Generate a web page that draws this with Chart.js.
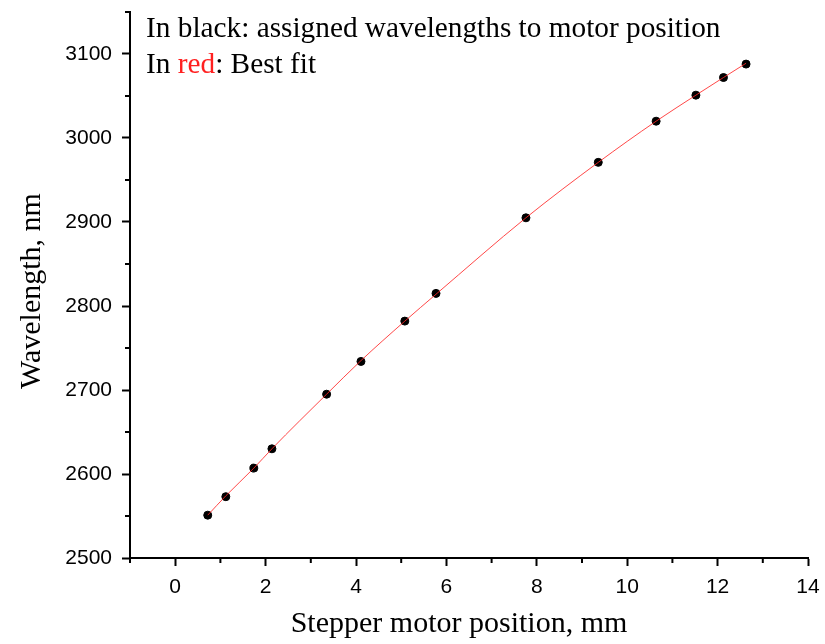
<!DOCTYPE html>
<html>
<head>
<meta charset="utf-8">
<script src="https://cdn.jsdelivr.net/npm/chart.js@4.4.1/dist/chart.umd.min.js"></script>
<style>
  html, body { margin: 0; padding: 0; background: #fff; }
  #wrap { width: 825px; height: 644px; position: relative; }
</style>
</head>
<body>
<div id="wrap"><canvas id="chart"></canvas></div>
<script>
// motor position (mm) and assigned wavelength (nm)
const positions = [0.72, 1.12, 1.74, 2.14, 3.35, 4.11, 5.08, 5.77, 7.76, 9.36, 10.64, 11.52, 12.13, 12.63];
const wavelengths = [2551, 2573, 2607, 2630, 2695, 2734, 2782, 2815, 2905, 2971, 3020, 3051, 3072, 3088];
// best fit curve values at the same positions
const fitValues = [2551, 2574, 2607, 2630, 2695, 2735, 2782, 2814, 2905, 2971, 3020, 3051, 3072, 3089];

const xMajorTicks = [0, 2, 4, 6, 8, 10, 12, 14];
const yMajorTicks = [2500, 2600, 2700, 2800, 2900, 3000, 3100];

const pointData = positions.map((x, i) => ({ x: x, y: wavelengths[i] }));
const fitData = positions.map((x, i) => ({ x: x, y: fitValues[i] }));

const serif = '"Liberation Serif", "Times New Roman", serif';
const sans = '"Liberation Sans", Arial, sans-serif';

// minor ticks and text labels drawn on top of the chart
const extrasPlugin = {
  id: 'extras',
  afterDraw(chart) {
    const ctx = chart.ctx;
    const xs = chart.scales.x;
    const ys = chart.scales.y;
    const area = chart.chartArea;
    ctx.save();
    ctx.strokeStyle = '#000';
    ctx.lineWidth = 2;
    // minor ticks
    for (let v = -1; v <= 13; v += 2) {
      const px = xs.getPixelForValue(v);
      ctx.beginPath();
      ctx.moveTo(px, area.bottom);
      ctx.lineTo(px, area.bottom + 5);
      ctx.stroke();
    }
    for (let v = 2550; v <= 3150; v += 100) {
      const py = ys.getPixelForValue(v);
      ctx.beginPath();
      ctx.moveTo(area.left, py);
      ctx.lineTo(area.left - 5, py);
      ctx.stroke();
    }
    // legend text
    ctx.font = '29.3px ' + serif;
    ctx.textBaseline = 'alphabetic';
    ctx.textAlign = 'left';
    ctx.fillStyle = '#000';
    ctx.fillText('In black: assigned wavelengths to motor position', 146, 37);
    let tx = 146;
    ctx.fillText('In ', tx, 73);
    tx += ctx.measureText('In ').width;
    ctx.fillStyle = '#ff2020';
    ctx.fillText('red', tx, 73);
    tx += ctx.measureText('red').width;
    ctx.fillStyle = '#000';
    ctx.fillText(': Best fit', tx, 73);
    // axis titles
    ctx.font = '30px ' + serif;
    ctx.textAlign = 'center';
    ctx.fillText('Stepper motor position, mm', 459, 632);
    ctx.save();
    ctx.translate(40, 291);
    ctx.rotate(-Math.PI / 2);
    ctx.fillText('Wavelength, nm', 0, 0);
    ctx.restore();
    ctx.restore();
  }
};

new Chart(document.getElementById('chart'), {
  type: 'scatter',
  data: {
    datasets: [
      {
        label: 'Best fit',
        data: fitData,
        showLine: true,
        borderColor: 'rgba(255, 40, 40, 0.85)',
        borderWidth: 1,
        pointRadius: 0,
        cubicInterpolationMode: 'monotone',
        order: 0
      },
      {
        label: 'Assigned wavelengths',
        data: pointData,
        backgroundColor: '#000',
        borderColor: '#000',
        pointRadius: 4,
        order: 1
      }
    ]
  },
  options: {
    responsive: true,
    maintainAspectRatio: false,
    animation: false,
    layout: { padding: { top: 12, right: 17, left: 0, bottom: 0 } },
    plugins: {
      legend: { display: false },
      tooltip: { enabled: false }
    },
    scales: {
      x: {
        type: 'linear',
        min: -1,
        max: 14,
        afterBuildTicks: (scale) => {
          scale.ticks = xMajorTicks.map(v => ({ value: v }));
        },
        afterFit: (scale) => {
          scale.height = 86;
          scale.paddingLeft = 0;
          scale.paddingRight = 0;
        },
        grid: {
          drawOnChartArea: false,
          tickLength: 8,
          tickWidth: 2,
          tickColor: '#000'
        },
        border: { color: '#000', width: 2 },
        ticks: {
          color: '#000',
          padding: 9,
          maxRotation: 0,
          callback: (v) => String(v),
          font: { family: sans, size: 21 }
        }
      },
      y: {
        type: 'linear',
        min: 2500,
        max: 3150,
        afterBuildTicks: (scale) => {
          scale.ticks = yMajorTicks.map(v => ({ value: v }));
        },
        afterFit: (scale) => {
          scale.width = 130;
          scale.paddingTop = 0;
          scale.paddingBottom = 0;
        },
        grid: {
          drawOnChartArea: false,
          tickLength: 8,
          tickWidth: 2,
          tickColor: '#000'
        },
        border: { color: '#000', width: 2 },
        ticks: {
          color: '#000',
          padding: 10,
          callback: (v) => String(v),
          font: { family: sans, size: 21 }
        }
      }
    }
  },
  plugins: [extrasPlugin]
});
</script>
</body>
</html>
